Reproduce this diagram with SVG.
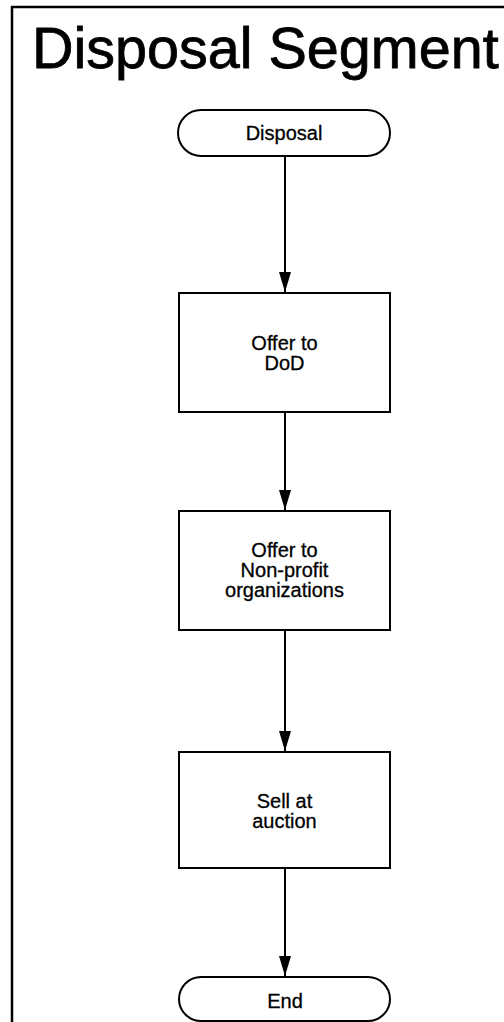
<svg xmlns="http://www.w3.org/2000/svg" width="504" height="1022" viewBox="0 0 504 1022">
<style>
.shape{fill:#fff;stroke:#000;stroke-width:2}
.lbl{font-family:"Liberation Sans",Arial,sans-serif;font-size:20px;fill:#000;stroke:#000;stroke-width:0.3;text-anchor:middle}
.title{font-family:"Liberation Sans",Arial,sans-serif;font-size:57.5px;fill:#000;stroke:#000;stroke-width:0.8}
.conn{stroke:#000;stroke-width:2;fill:none}
</style>
<defs>
<marker id="ah" markerUnits="userSpaceOnUse" markerWidth="20" markerHeight="12" refX="20" refY="6" orient="auto" viewBox="0 0 20 12">
<path d="M0,0 L20,6 L0,12 Z" fill="#000"/>
</marker>
</defs>
<rect width="504" height="1022" fill="#fff"/>
<g id="frame">
<path d="M12,1022 L12,7 L504,7" fill="none" stroke="#000" stroke-width="2.5"/>
<text class="title" x="32" y="68">Disposal Segment</text>
</g>
<g id="connectors">
<line class="conn" x1="285" y1="156" x2="285" y2="292" marker-end="url(#ah)"/>
<line class="conn" x1="285" y1="412" x2="285" y2="510" marker-end="url(#ah)"/>
<line class="conn" x1="285" y1="630" x2="285" y2="751" marker-end="url(#ah)"/>
<line class="conn" x1="285" y1="868" x2="285" y2="976" marker-end="url(#ah)"/>
</g>
<g id="n-disposal">
<rect class="shape" x="178" y="110" width="212" height="46" rx="23"/>
<text class="lbl" x="284" y="140">Disposal</text>
</g>
<g id="n-dod">
<rect class="shape" x="179" y="293" width="211" height="119"/>
<text class="lbl" x="284.5" y="350">Offer to</text>
<text class="lbl" x="284.5" y="370">DoD</text>
</g>
<g id="n-nonprofit">
<rect class="shape" x="179" y="511" width="211" height="119"/>
<text class="lbl" x="284.5" y="557">Offer to</text>
<text class="lbl" x="284.5" y="577">Non-profit</text>
<text class="lbl" x="284.5" y="597">organizations</text>
</g>
<g id="n-auction">
<rect class="shape" x="179" y="752" width="211" height="116"/>
<text class="lbl" x="284.5" y="808">Sell at</text>
<text class="lbl" x="284.5" y="828">auction</text>
</g>
<g id="n-end">
<rect class="shape" x="179" y="977" width="211" height="44" rx="22"/>
<text class="lbl" x="285" y="1008">End</text>
</g>
</svg>
